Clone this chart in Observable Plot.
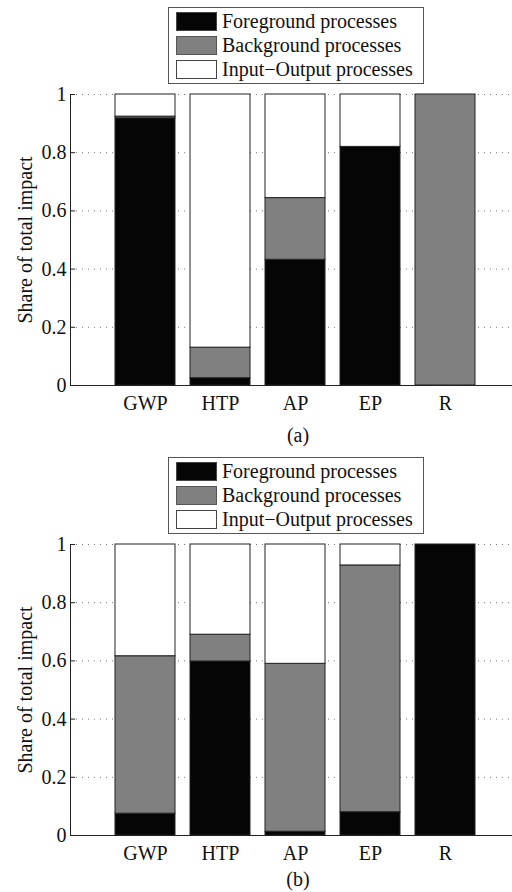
<!DOCTYPE html>
<html><head><meta charset="utf-8">
<script src="https://cdn.jsdelivr.net/npm/d3@7"></script>
<script src="https://cdn.jsdelivr.net/npm/@observablehq/plot@0.6"></script>
<style>
body{margin:0;background:#fff;font-family:"Liberation Serif","DejaVu Serif",serif;}
#root{position:relative;width:512px;height:892px;overflow:hidden;background:#fff;}
.panel{position:absolute;left:0;}
.legend{position:absolute;left:168px;width:254px;height:75px;border:1px solid #555;background:#fff;}
.row{position:absolute;left:7px;height:19px;display:flex;align-items:center;font-size:20px;color:#111;white-space:nowrap;}
.sw{width:39px;height:17px;border:1px solid #444;margin-right:5px;flex:none;}
.cap{position:absolute;text-align:center;font-size:20px;line-height:23px;color:#111;}
</style></head><body><div id="root"></div>
<script>
const categories = ["GWP", "HTP", "AP", "EP", "R"];
const series = ["Foreground processes", "Background processes", "Input\u2212Output processes"];
const colors = ["#050505", "#808080", "#ffffff"];
const yTicks = [0, 0.2, 0.4, 0.6, 0.8, 1];
const captions = ["(a)", "(b)"];
const yLabel = "Share of total impact";
// panel (a)
const fgA = [0.918, 0.025, 0.432, 0.82, 0];
const bgA = [0.006, 0.105, 0.212, 0, 1];
const ioA = [0.076, 0.87, 0.356, 0.18, 0];
// panel (b)
const fgB = [0.075, 0.598, 0.013, 0.08, 1];
const bgB = [0.541, 0.092, 0.577, 0.848, 0];
const ioB = [0.384, 0.31, 0.41, 0.072, 0];

const FONT = "'Liberation Serif', 'DejaVu Serif', serif";
const root = document.getElementById("root");

function table(fg, bg, io) {
  const rows = [];
  categories.forEach((c, i) => {
    rows.push({cat: c, series: series[0], value: fg[i]});
    rows.push({cat: c, series: series[1], value: bg[i]});
    rows.push({cat: c, series: series[2], value: io[i]});
  });
  return rows;
}

function panel(fg, bg, io, top, marginTop, marginBottom, legendTop, capTop, cap) {
  const chart = Plot.plot({
    width: 512, height: 446,
    marginLeft: 70, marginRight: 0, marginTop, marginBottom,
    style: {fontFamily: FONT, fontSize: "20px", color: "#111", background: "#fff"},
    x: {domain: categories, range: [107.5, 482.5], paddingInner: 0.2, paddingOuter: 0.1},
    y: {domain: [0, 1]},
    color: {domain: series, range: colors},
    marks: [
      Plot.gridY(yTicks.filter(d => d > 0), {stroke: "#777", strokeOpacity: 1, strokeDasharray: "1,5"}),
      Plot.barY(table(fg, bg, io), {x: "cat", y: "value", fill: "series", stroke: "#222", strokeWidth: 1, order: null}),
      Plot.frame({anchor: "left", stroke: "#222"}),
      Plot.frame({anchor: "bottom", stroke: "#222"}),
      Plot.axisY({ticks: yTicks, tickFormat: d => String(d), tickSize: 0, tickPadding: 4, label: null, fontSize: 20, fontFamily: FONT}),
      Plot.axisY({ticks: yTicks.filter(d => d > 0), tickFormat: () => "", tickSize: -5, label: null, stroke: "#222"}),
      Plot.axisX({tickSize: 0, tickPadding: 10, label: null, fontSize: 20, fontFamily: FONT}),
      Plot.text([yLabel], {frameAnchor: "left", textAnchor: "middle", rotate: -90, dx: -45, fontSize: 20, fontFamily: FONT, fill: "#111"})
    ]
  });
  chart.classList.add("panel");
  chart.style.top = top + "px";
  root.appendChild(chart);

  const lg = document.createElement("div");
  lg.className = "legend";
  lg.style.top = legendTop + "px";
  series.forEach((s, i) => {
    const r = document.createElement("div");
    r.className = "row";
    r.style.top = (4 + i * 24) + "px";
    const sw = document.createElement("div");
    sw.className = "sw";
    sw.style.background = colors[i];
    if (i === 1) sw.style.borderColor = "#555";
    const t = document.createElement("span");
    t.textContent = s;
    r.appendChild(sw); r.appendChild(t);
    lg.appendChild(r);
  });
  root.appendChild(lg);

  const c = document.createElement("div");
  c.className = "cap";
  c.style.left = "0px";
  c.style.width = "596px";
  c.style.top = capTop + "px";
  c.textContent = cap;
  root.appendChild(c);
}

panel(fgA, bgA, ioA, 0, 94, 61, 7, 424, captions[0]);
panel(fgB, bgB, ioB, 446, 98, 57, 457, 868, captions[1]);
</script></body></html>
